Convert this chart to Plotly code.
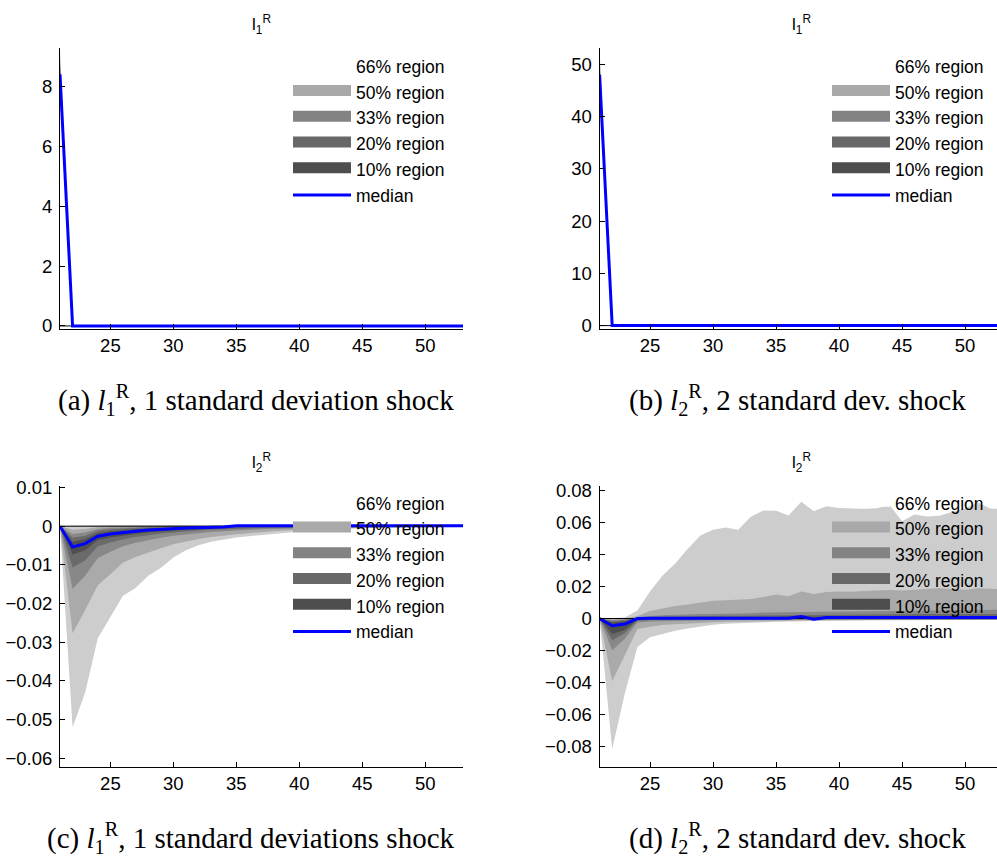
import plotly.graph_objects as go

# ---------------- data ----------------
periods = [21, 22, 23, 24, 25, 26, 27, 28, 29, 30, 31, 32, 33, 34, 35, 36, 37,
           38, 39, 40, 41, 42, 43, 44, 45, 46, 47, 48, 49, 50, 51, 52, 53]

band_labels = ["66% region", "50% region", "33% region", "20% region", "10% region"]
median_label = "median"

# panel (a): l1R, 1 s.d. shock
a_median = [8.4, 0, 0, 0, 0, 0, 0, 0, 0, 0, 0, 0, 0, 0, 0, 0, 0, 0, 0, 0, 0, 0, 0, 0, 0, 0, 0, 0, 0, 0, 0, 0, 0]
a_lo66 = [7.6, 0, 0, 0, 0, 0, 0, 0, 0, 0, 0, 0, 0, 0, 0, 0, 0, 0, 0, 0, 0, 0, 0, 0, 0, 0, 0, 0, 0, 0, 0, 0, 0]
a_hi66 = [9.25, 0, 0, 0, 0, 0, 0, 0, 0, 0, 0, 0, 0, 0, 0, 0, 0, 0, 0, 0, 0, 0, 0, 0, 0, 0, 0, 0, 0, 0, 0, 0, 0]
a_lo50 = [7.8, 0, 0, 0, 0, 0, 0, 0, 0, 0, 0, 0, 0, 0, 0, 0, 0, 0, 0, 0, 0, 0, 0, 0, 0, 0, 0, 0, 0, 0, 0, 0, 0]
a_hi50 = [9.0, 0, 0, 0, 0, 0, 0, 0, 0, 0, 0, 0, 0, 0, 0, 0, 0, 0, 0, 0, 0, 0, 0, 0, 0, 0, 0, 0, 0, 0, 0, 0, 0]
a_lo33 = [8.0, 0, 0, 0, 0, 0, 0, 0, 0, 0, 0, 0, 0, 0, 0, 0, 0, 0, 0, 0, 0, 0, 0, 0, 0, 0, 0, 0, 0, 0, 0, 0, 0]
a_hi33 = [8.8, 0, 0, 0, 0, 0, 0, 0, 0, 0, 0, 0, 0, 0, 0, 0, 0, 0, 0, 0, 0, 0, 0, 0, 0, 0, 0, 0, 0, 0, 0, 0, 0]
a_lo20 = [8.15, 0, 0, 0, 0, 0, 0, 0, 0, 0, 0, 0, 0, 0, 0, 0, 0, 0, 0, 0, 0, 0, 0, 0, 0, 0, 0, 0, 0, 0, 0, 0, 0]
a_hi20 = [8.65, 0, 0, 0, 0, 0, 0, 0, 0, 0, 0, 0, 0, 0, 0, 0, 0, 0, 0, 0, 0, 0, 0, 0, 0, 0, 0, 0, 0, 0, 0, 0, 0]
a_lo10 = [8.28, 0, 0, 0, 0, 0, 0, 0, 0, 0, 0, 0, 0, 0, 0, 0, 0, 0, 0, 0, 0, 0, 0, 0, 0, 0, 0, 0, 0, 0, 0, 0, 0]
a_hi10 = [8.52, 0, 0, 0, 0, 0, 0, 0, 0, 0, 0, 0, 0, 0, 0, 0, 0, 0, 0, 0, 0, 0, 0, 0, 0, 0, 0, 0, 0, 0, 0, 0, 0]

# panel (b): l2R, 2 s.d. shock (top row)
b_median = [48.0, 0, 0, 0, 0, 0, 0, 0, 0, 0, 0, 0, 0, 0, 0, 0, 0, 0, 0, 0, 0, 0, 0, 0, 0, 0, 0, 0, 0, 0, 0, 0, 0]
b_lo66 = [43.0, 0, 0, 0, 0, 0, 0, 0, 0, 0, 0, 0, 0, 0, 0, 0, 0, 0, 0, 0, 0, 0, 0, 0, 0, 0, 0, 0, 0, 0, 0, 0, 0]
b_hi66 = [53.0, 0, 0, 0, 0, 0, 0, 0, 0, 0, 0, 0, 0, 0, 0, 0, 0, 0, 0, 0, 0, 0, 0, 0, 0, 0, 0, 0, 0, 0, 0, 0, 0]
b_lo50 = [44.5, 0, 0, 0, 0, 0, 0, 0, 0, 0, 0, 0, 0, 0, 0, 0, 0, 0, 0, 0, 0, 0, 0, 0, 0, 0, 0, 0, 0, 0, 0, 0, 0]
b_hi50 = [51.8, 0, 0, 0, 0, 0, 0, 0, 0, 0, 0, 0, 0, 0, 0, 0, 0, 0, 0, 0, 0, 0, 0, 0, 0, 0, 0, 0, 0, 0, 0, 0, 0]
b_lo33 = [45.8, 0, 0, 0, 0, 0, 0, 0, 0, 0, 0, 0, 0, 0, 0, 0, 0, 0, 0, 0, 0, 0, 0, 0, 0, 0, 0, 0, 0, 0, 0, 0, 0]
b_hi33 = [50.5, 0, 0, 0, 0, 0, 0, 0, 0, 0, 0, 0, 0, 0, 0, 0, 0, 0, 0, 0, 0, 0, 0, 0, 0, 0, 0, 0, 0, 0, 0, 0, 0]
b_lo20 = [46.7, 0, 0, 0, 0, 0, 0, 0, 0, 0, 0, 0, 0, 0, 0, 0, 0, 0, 0, 0, 0, 0, 0, 0, 0, 0, 0, 0, 0, 0, 0, 0, 0]
b_hi20 = [49.6, 0, 0, 0, 0, 0, 0, 0, 0, 0, 0, 0, 0, 0, 0, 0, 0, 0, 0, 0, 0, 0, 0, 0, 0, 0, 0, 0, 0, 0, 0, 0, 0]
b_lo10 = [47.3, 0, 0, 0, 0, 0, 0, 0, 0, 0, 0, 0, 0, 0, 0, 0, 0, 0, 0, 0, 0, 0, 0, 0, 0, 0, 0, 0, 0, 0, 0, 0, 0]
b_hi10 = [48.8, 0, 0, 0, 0, 0, 0, 0, 0, 0, 0, 0, 0, 0, 0, 0, 0, 0, 0, 0, 0, 0, 0, 0, 0, 0, 0, 0, 0, 0, 0, 0, 0]

# panel (c): l2R response, 1 s.d. shock
c_median = [0, -0.0054, -0.0045, -0.0026, -0.0020, -0.0016, -0.0013, -0.0010, -0.0008, -0.0006, -0.0005,
            -0.0004, -0.0003, -0.0002, 0.0001, 0.0001, 0.0001, 0.0001, 0.0001, 0.0001, 0.0001, 0.0001,
            0.0001, 0.0001, 0.0001, 0.0001, 0.0001, 0.0001, 0.0001, 0.0001, 0.0001, 0.0001, 0.0001]
c_lo66 = [0, -0.052, -0.043, -0.029, -0.0235, -0.018, -0.0160, -0.0128, -0.0108, -0.0081, -0.0062,
          -0.0049, -0.0040, -0.0034, -0.0029, -0.0026, -0.0023, -0.0020, -0.0016, -0.0013, -0.0011,
          -0.0009, -0.0007, -0.0006, -0.0005, -0.0004, -0.0004, -0.0003, -0.0003, -0.0003, -0.0002,
          -0.0002, -0.0002]
c_hi66 = [0, 0.0002, 0.0002, 0.0003, 0.0003, 0.0003, 0.0003, 0.0003, 0.0003, 0.0003, 0.0003, 0.0003,
          0.0003, 0.0003, 0.0004, 0.0004, 0.0004, 0.0004, 0.0004, 0.0004, 0.0004, 0.0004, 0.0004,
          0.0004, 0.0004, 0.0004, 0.0004, 0.0004, 0.0004, 0.0004, 0.0004, 0.0004, 0.0004]
c_lo50 = [0, -0.0277, -0.0217, -0.0153, -0.0124, -0.0094, -0.0080, -0.0068, -0.0057, -0.0047, -0.0039,
          -0.0033, -0.0028, -0.0024, -0.0021, -0.0018, -0.0015, -0.0013, -0.0011, -0.0009, -0.0008,
          -0.0007, -0.0006, -0.0005, -0.0004, -0.0004, -0.0003, -0.0003, -0.0003, -0.0002, -0.0002,
          -0.0002, -0.0002]
c_hi50 = [0, -0.0009, -0.0007, -0.0002, -0.0001, 0.0, 0.0, 0.0, 0.0, 0.0, 0.0, 0.0, 0.0, 0.0,
          0.0003, 0.0003, 0.0003, 0.0003, 0.0003, 0.0003, 0.0003, 0.0003, 0.0003, 0.0003, 0.0003,
          0.0003, 0.0003, 0.0003, 0.0003, 0.0003, 0.0003, 0.0003, 0.0003]
c_lo33 = [0, -0.0162, -0.0128, -0.0082, -0.0066, -0.0052, -0.0043, -0.0036, -0.0030, -0.0025, -0.0021,
          -0.0018, -0.0015, -0.0013, -0.0011, -0.0009, -0.0008, -0.0007, -0.0006, -0.0005, -0.0004,
          -0.0004, -0.0004, -0.0003, -0.0003, -0.0003, -0.0003, -0.0002, -0.0002, -0.0002, -0.0002,
          -0.0001, -0.0001]
c_hi33 = [0, -0.0020, -0.0016, -0.0007, -0.0004, -0.0003, -0.0002, -0.0001, 0.0, 0.0, 0.0, 0.0, 0.0,
          0.0, 0.0002, 0.0002, 0.0002, 0.0002, 0.0002, 0.0002, 0.0002, 0.0002, 0.0002, 0.0002, 0.0002,
          0.0002, 0.0002, 0.0002, 0.0002, 0.0002, 0.0002, 0.0002, 0.0002]
c_lo20 = [0, -0.0107, -0.0088, -0.0052, -0.0042, -0.0034, -0.0028, -0.0023, -0.0019, -0.0016, -0.0013,
          -0.0011, -0.0009, -0.0008, -0.0006, -0.0005, -0.0004, -0.0004, -0.0004, -0.0003, -0.0003,
          -0.0003, -0.0003, -0.0003, -0.0002, -0.0002, -0.0002, -0.0002, -0.0002, -0.0001, -0.0001,
          -0.0001, -0.0001]
c_hi20 = [0, -0.0030, -0.0025, -0.0012, -0.0008, -0.0006, -0.0004, -0.0003, -0.0002, -0.0001, 0.0,
          0.0, 0.0, 0.0, 0.0002, 0.0002, 0.0002, 0.0002, 0.0002, 0.0002, 0.0002, 0.0002, 0.0002,
          0.0002, 0.0002, 0.0002, 0.0002, 0.0002, 0.0002, 0.0002, 0.0002, 0.0002, 0.0002]
c_lo10 = [0, -0.0073, -0.0062, -0.0036, -0.0029, -0.0024, -0.0020, -0.0016, -0.0013, -0.0011, -0.0009,
          -0.0007, -0.0006, -0.0004, 0.0, 0.0, 0.0, 0.0, 0.0, 0.0, 0.0, 0.0, 0.0, 0.0, 0.0, 0.0, 0.0,
          0.0, 0.0, 0.0, 0.0, 0.0, 0.0]
c_hi10 = [0, -0.0040, -0.0033, -0.0018, -0.0013, -0.0010, -0.0008, -0.0006, -0.0005, -0.0003, -0.0002,
          -0.0002, -0.0001, 0.0, 0.0002, 0.0002, 0.0002, 0.0002, 0.0002, 0.0002, 0.0002, 0.0002,
          0.0002, 0.0002, 0.0002, 0.0002, 0.0002, 0.0002, 0.0002, 0.0002, 0.0002, 0.0002, 0.0002]

# panel (d): l2R response, 2 s.d. shock
d_median = [0, -0.0045, -0.0035, 0.0, 0.0001, 0.0001, 0.0001, 0.0001, 0.0001, 0.0001, 0.0001, 0.0001,
            0.0001, 0.0001, 0.0001, 0.0001, 0.0012, -0.0004, 0.0006, 0.0006, 0.0006, 0.0006, 0.0006,
            0.0006, 0.0006, 0.0006, 0.0006, 0.0006, 0.0006, 0.0006, 0.0006, 0.0006, 0.0006]
d_lo66 = [0, -0.0818, -0.047, -0.0178, -0.0117, -0.0097, -0.0076, -0.0062, -0.0050, -0.0039, -0.0033,
          -0.0029, -0.0026, -0.0023, -0.0021, -0.0019, -0.0017, -0.0016, -0.0015, -0.0014, -0.0013,
          -0.0012, -0.0012, -0.0011, -0.0011, -0.0010, -0.0010, -0.0010, -0.0009, -0.0009, -0.0009,
          -0.0008, -0.0008]
d_hi66 = [0, 0.0003, 0.0006, 0.0050, 0.0170, 0.0270, 0.0345, 0.0437, 0.0520, 0.0556, 0.0570, 0.0556,
          0.0638, 0.0677, 0.0675, 0.0646, 0.0732, 0.0673, 0.0704, 0.0693, 0.0690, 0.0688, 0.0692,
          0.0713, 0.0610, 0.0652, 0.0640, 0.0645, 0.0670, 0.0690, 0.0728, 0.0690, 0.0688]
d_lo50 = [0, -0.0394, -0.0230, -0.0066, -0.0051, -0.0041, -0.0036, -0.0031, -0.0027, -0.0023, -0.0021,
          -0.0019, -0.0017, -0.0015, -0.0014, -0.0013, -0.0012, -0.0011, -0.0011, -0.0010, -0.0010,
          -0.0009, -0.0009, -0.0009, -0.0008, -0.0008, -0.0008, -0.0008, -0.0007, -0.0007, -0.0007,
          -0.0007, -0.0007]
d_hi50 = [0, -0.0005, 0.0, 0.0016, 0.0047, 0.0064, 0.0078, 0.0088, 0.0098, 0.0112, 0.0114, 0.0117,
          0.0123, 0.0135, 0.0150, 0.0140, 0.0170, 0.0154, 0.0166, 0.0170, 0.0168, 0.0172, 0.0175,
          0.0178, 0.0176, 0.0180, 0.0182, 0.0190, 0.0185, 0.0180, 0.0190, 0.0186, 0.0184]
d_lo33 = [0, -0.0199, -0.0127, -0.0025, -0.0018, -0.0016, -0.0014, -0.0013, -0.0012, -0.0011, -0.0010,
          -0.0010, -0.0009, -0.0009, -0.0008, -0.0008, -0.0008, -0.0007, -0.0007, -0.0007, -0.0007,
          -0.0006, -0.0006, -0.0006, -0.0006, -0.0006, -0.0006, -0.0006, -0.0006, -0.0006, -0.0006,
          -0.0006, -0.0006]
d_hi33 = [0, -0.0010, -0.0004, 0.0008, 0.0016, 0.0020, 0.0024, 0.0027, 0.0028, 0.0029, 0.0029, 0.0030,
          0.0033, 0.0037, 0.0038, 0.0040, 0.0042, 0.0043, 0.0045, 0.0047, 0.0048, 0.0048, 0.0049,
          0.0050, 0.0051, 0.0052, 0.0052, 0.0053, 0.0053, 0.0054, 0.0055, 0.0055, 0.0056]
d_lo20 = [0, -0.0137, -0.0092, -0.0014, -0.0010, -0.0009, -0.0008, -0.0008, -0.0007, -0.0007, -0.0006,
          -0.0006, -0.0006, -0.0005, -0.0005, -0.0005, -0.0005, -0.0005, -0.0005, -0.0005, -0.0005,
          -0.0005, -0.0005, -0.0005, -0.0005, -0.0005, -0.0005, -0.0005, -0.0005, -0.0005, -0.0005,
          -0.0005, -0.0005]
d_hi20 = [0, -0.0018, -0.0010, 0.0005, 0.0009, 0.0011, 0.0012, 0.0014, 0.0015, 0.0016, 0.0017, 0.0017,
          0.0018, 0.0019, 0.0020, 0.0021, 0.0022, 0.0023, 0.0024, 0.0025, 0.0025, 0.0026, 0.0026,
          0.0027, 0.0027, 0.0027, 0.0028, 0.0028, 0.0028, 0.0029, 0.0029, 0.0029, 0.0029]
d_lo10 = [0, -0.0097, -0.0072, -0.0008, -0.0005, -0.0004, -0.0004, -0.0003, -0.0003, -0.0003, -0.0003,
          -0.0003, -0.0003, -0.0003, -0.0003, -0.0003, -0.0003, -0.0003, -0.0003, -0.0003, -0.0003,
          -0.0003, -0.0003, -0.0003, -0.0003, -0.0003, -0.0003, -0.0003, -0.0003, -0.0003, -0.0003,
          -0.0003, -0.0003]
d_hi10 = [0, -0.0025, -0.0018, 0.0003, 0.0005, 0.0006, 0.0006, 0.0007, 0.0007, 0.0008, 0.0008, 0.0009,
          0.0009, 0.0010, 0.0010, 0.0011, 0.0015, 0.0011, 0.0012, 0.0012, 0.0012, 0.0013, 0.0013,
          0.0013, 0.0013, 0.0013, 0.0014, 0.0014, 0.0014, 0.0014, 0.0014, 0.0014, 0.0014]

# tick values / labels
x_tickvals = [25, 30, 35, 40, 45, 50]
x_ticktext = ["25", "30", "35", "40", "45", "50"]
a_ytickvals = [0, 2, 4, 6, 8]
a_yticktext = ["0", "2", "4", "6", "8"]
b_ytickvals = [0, 10, 20, 30, 40, 50]
b_yticktext = ["0", "10", "20", "30", "40", "50"]
c_ytickvals = [0.01, 0, -0.01, -0.02, -0.03, -0.04, -0.05, -0.06]
c_yticktext = ["0.01", "0", "\u22120.01", "\u22120.02", "\u22120.03", "\u22120.04", "\u22120.05", "\u22120.06"]
d_ytickvals = [0.08, 0.06, 0.04, 0.02, 0, -0.02, -0.04, -0.06, -0.08]
d_yticktext = ["0.08", "0.06", "0.04", "0.02", "0", "\u22120.02", "\u22120.04", "\u22120.06", "\u22120.08"]

titles = ["l<sub>1</sub><sup>R</sup>", "l<sub>1</sub><sup>R</sup>",
          "l<sub>2</sub><sup>R</sup>", "l<sub>2</sub><sup>R</sup>"]
captions = ["(a) <i>l</i><sub>1</sub><sup>R</sup>, 1 standard deviation shock",
            "(b) <i>l</i><sub>2</sub><sup>R</sup>, 2 standard dev. shock",
            "(c) <i>l</i><sub>1</sub><sup>R</sup>, 1 standard deviations shock",
            "(d) <i>l</i><sub>2</sub><sup>R</sup>, 2 standard dev. shock"]

# ---------------- style ----------------
W, H = 997, 862
band_colors = ["#cdcdcd", "#aaaaaa", "#888888", "#6a6a6a", "#4f4f4f"]
legend_swatch_colors = ["#ffffff", "#a9a9a9", "#838383", "#686868", "#4e4e4e"]
median_color = "#0000ff"
sans = "Liberation Sans, Arial, sans-serif"
serif = "Liberation Serif, Times New Roman, serif"

col_dom = [[60 / W, 463 / W], [599.6 / W, 1.0]]
row_dom = [[1 - 326 / H, 1 - 40 / H], [1 - 772 / H, 1 - 486 / H]]

panels = [
    dict(xa="x", ya="y", leg="legend", col=0, row=0, med=a_median,
         bands=[(a_lo66, a_hi66), (a_lo50, a_hi50), (a_lo33, a_hi33), (a_lo20, a_hi20), (a_lo10, a_hi10)],
         yr=[-0.1, 9.27], xr=[21, 53], ytv=a_ytickvals, ytt=a_yticktext),
    dict(xa="x2", ya="y2", leg="legend2", col=1, row=0, med=b_median,
         bands=[(b_lo66, b_hi66), (b_lo50, b_hi50), (b_lo33, b_hi33), (b_lo20, b_hi20), (b_lo10, b_hi10)],
         yr=[-0.64, 53.05], xr=[21, 52.54], ytv=b_ytickvals, ytt=b_yticktext),
    dict(xa="x3", ya="y3", leg="legend3", col=0, row=1, med=c_median,
         bands=[(c_lo66, c_hi66), (c_lo50, c_hi50), (c_lo33, c_hi33), (c_lo20, c_hi20), (c_lo10, c_hi10)],
         yr=[-0.0622, 0.0104], xr=[21, 53], ytv=c_ytickvals, ytt=c_yticktext),
    dict(xa="x4", ya="y4", leg="legend4", col=1, row=1, med=d_median,
         bands=[(d_lo66, d_hi66), (d_lo50, d_hi50), (d_lo33, d_hi33), (d_lo20, d_hi20), (d_lo10, d_hi10)],
         yr=[-0.0929, 0.0831], xr=[21, 52.54], ytv=d_ytickvals, ytt=d_yticktext),
]

fig = go.Figure()
for p in panels:
    for (lo, hi), col in zip(p["bands"], band_colors):
        fig.add_trace(go.Scatter(x=periods, y=lo, mode="lines", line=dict(width=0, color=col),
                                 showlegend=False, hoverinfo="skip", xaxis=p["xa"], yaxis=p["ya"]))
        fig.add_trace(go.Scatter(x=periods, y=hi, mode="lines", line=dict(width=0, color=col),
                                 fill="tonexty", fillcolor=col, showlegend=False, hoverinfo="skip",
                                 xaxis=p["xa"], yaxis=p["ya"]))
    # zero reference line
    fig.add_trace(go.Scatter(x=[periods[0], periods[-1]], y=[0, 0], mode="lines",
                             line=dict(color="black", width=1), showlegend=False, hoverinfo="skip",
                             xaxis=p["xa"], yaxis=p["ya"]))
    # legend entries for the regions
    for lab, sc in zip(band_labels, legend_swatch_colors):
        fig.add_trace(go.Scatter(x=[None], y=[None], mode="lines", fill="toself", fillcolor=sc,
                                 line=dict(color=sc, width=10), name=lab, legend=p["leg"],
                                 xaxis=p["xa"], yaxis=p["ya"]))
    fig.add_trace(go.Scatter(x=periods, y=p["med"], mode="lines", name=median_label,
                             line=dict(color=median_color, width=3), legend=p["leg"],
                             xaxis=p["xa"], yaxis=p["ya"]))

axis_common = dict(showline=True, linecolor="black", linewidth=1, ticks="inside", ticklen=5,
                   tickcolor="black", tickwidth=1, showgrid=False, zeroline=False, mirror=False,
                   tickfont=dict(family=sans, size=18.5, color="black"))

layout = dict(width=W, height=H, margin=dict(l=0, r=0, t=0, b=0), paper_bgcolor="white",
              plot_bgcolor="rgba(0,0,0,0)", font=dict(family=sans, size=17, color="black"),
              annotations=[])

leg_x = [288 / W, 827 / W]
leg_y = [1 - 40 / H, 1 - 485 / H]
for i, p in enumerate(panels):
    n = "" if i == 0 else str(i + 1)
    layout["xaxis" + n] = dict(axis_common, domain=col_dom[p["col"]], range=p["xr"], anchor=p["ya"],
                               tickmode="array", tickvals=x_tickvals, ticktext=x_ticktext,
                               ticklabelstandoff=0)
    layout["yaxis" + n] = dict(axis_common, domain=row_dom[p["row"]], range=p["yr"], anchor=p["xa"],
                               tickmode="array", tickvals=p["ytv"], ticktext=p["ytt"],
                               ticklabelstandoff=3)
    layout["legend" + n] = dict(x=leg_x[p["col"]], y=leg_y[p["row"]], xanchor="left", yanchor="top",
                                bgcolor="rgba(0,0,0,0)", borderwidth=0, itemwidth=58,
                                font=dict(family=sans, size=17.5, color="black"), traceorder="normal")
    cx = (col_dom[p["col"]][0] + col_dom[p["col"]][1]) / 2 if p["col"] == 0 else 801 / W
    layout["annotations"].append(dict(text=titles[i], x=cx, y=[1 - 16 / H, 1 - 462 / H][p["row"]],
                                      xref="paper", yref="paper", showarrow=False,
                                      xanchor="center", yanchor="middle",
                                      font=dict(family=sans, size=17, color="black")))

cap_x = [256 / W, 797 / W, 251 / W, 797 / W]
cap_y = [1 - 398 / H, 1 - 398 / H, 1 - 845 / H, 1 - 845 / H]
for i in range(4):
    layout["annotations"].append(dict(text=captions[i], x=cap_x[i], y=cap_y[i], xref="paper",
                                      yref="paper", showarrow=False, xanchor="center",
                                      yanchor="middle", font=dict(family=serif, size=29, color="black")))

fig.update_layout(**layout)
fig.write_html("out.html")
